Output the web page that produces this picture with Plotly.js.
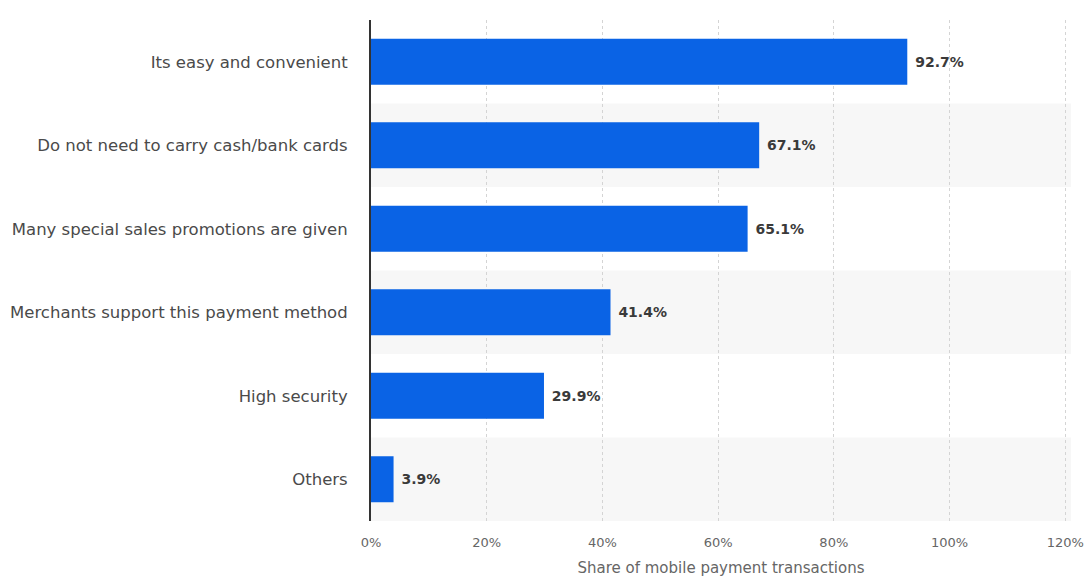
<!DOCTYPE html>
<html>
<head>
<meta charset="utf-8">
<script src="https://cdn.plot.ly/plotly-3.0.1.min.js"></script>
<style>html,body{margin:0;padding:0;background:#fff;}#chart{width:1091px;height:579px;}</style>
</head>
<body>
<div id="chart"></div>
<script>
const categories = [
  "Its easy and convenient",
  "Do not need to carry cash/bank cards",
  "Many special sales promotions are given",
  "Merchants support this payment method",
  "High security",
  "Others"
];
const values = [92.7, 67.1, 65.1, 41.4, 29.9, 3.9];
const tickVals = [0, 20, 40, 60, 80, 100, 120];
const tickText = ["0%", "20%", "40%", "60%", "80%", "100%", "120%"];

const bandShapes = categories.map((c, i) => i % 2 === 1 ? {
  type: "rect", xref: "paper", yref: "y", layer: "below",
  x0: 0, x1: 1, y0: i - 0.5, y1: i + 0.5,
  fillcolor: "#f7f7f7", line: {width: 0}
} : null).filter(Boolean);

const trace = {
  type: "bar", orientation: "h",
  y: categories, x: values,
  marker: {color: "#0a63e5"},
  text: values.map(v => "<b>\u00a0" + v.toFixed(1) + "%</b>"),
  textposition: "outside",
  textfont: {family: "DejaVu Sans", size: 14, color: "#3a3a3a"},
  cliponaxis: false,
  hoverinfo: "skip"
};

const layout = {
  width: 1091, height: 579,
  margin: {l: 371, r: 20, t: 20, b: 58},
  paper_bgcolor: "#ffffff", plot_bgcolor: "rgba(0,0,0,0)",
  bargap: 0.45,
  showlegend: false,
  font: {family: "DejaVu Sans", color: "#555"},
  shapes: bandShapes,
  xaxis: {
    range: [0, 121],
    tickvals: tickVals, ticktext: tickText,
    showgrid: true, gridcolor: "#d4d4d4", griddash: "dot", gridwidth: 1,
    zeroline: false, showline: false,
    ticks: "", ticklabelstandoff: 12,
    tickfont: {family: "DejaVu Sans", size: 13, color: "#666"},
    title: {text: "Share of mobile payment transactions", standoff: 13,
            font: {family: "DejaVu Sans", size: 15, color: "#666"}}
  },
  yaxis: {
    autorange: "reversed",
    showline: true, linecolor: "#333", linewidth: 2,
    showgrid: false, zeroline: false,
    ticks: "", ticklabelstandoff: 18,
    tickfont: {family: "DejaVu Sans", size: 16.5, color: "#4a4a4a"}
  }
};

Plotly.newPlot("chart", [trace], layout, {displayModeBar: false, staticPlot: true});
</script>
</body>
</html>
